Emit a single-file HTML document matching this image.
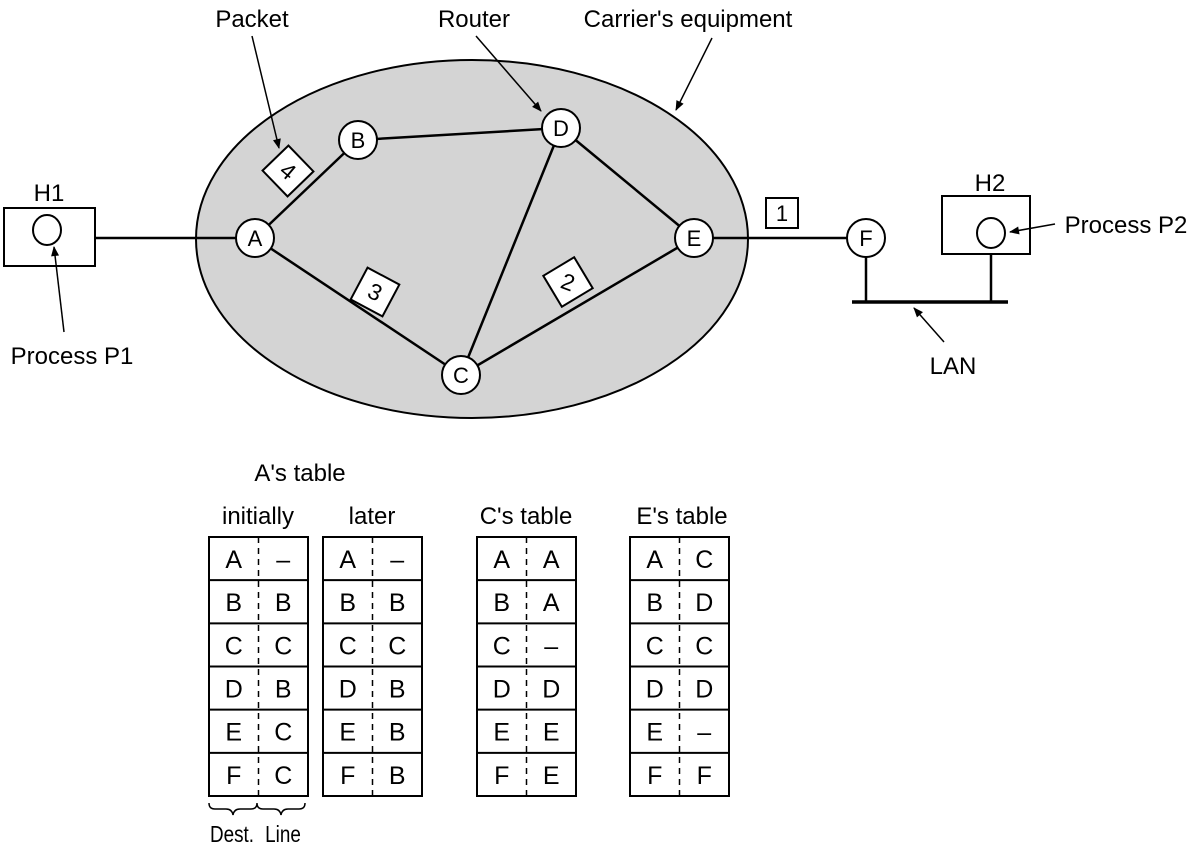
<!DOCTYPE html>
<html><head><style>
body{margin:0;background:#fff}
text{font-family:"Liberation Sans",sans-serif;fill:#000}
</style></head><body>
<svg width="1196" height="848" xmlns="http://www.w3.org/2000/svg">
<defs><marker id="ar" viewBox="0 0 10 10" refX="9" refY="5" markerWidth="12" markerHeight="10" markerUnits="userSpaceOnUse" orient="auto"><path d="M0,1 L10,5 L0,9z"/></marker></defs>
<ellipse cx="472" cy="239" rx="276" ry="179" fill="#d4d4d4" stroke="#000" stroke-width="2"/>
<g stroke="#000" stroke-width="2.5" fill="none">
<line x1="95" y1="238" x2="238" y2="238"/>
<line x1="255" y1="238" x2="358" y2="140"/>
<line x1="358" y1="140" x2="561" y2="128"/>
<line x1="255" y1="238" x2="461" y2="375"/>
<line x1="561" y1="128" x2="461" y2="375"/>
<line x1="561" y1="128" x2="694" y2="238"/>
<line x1="461" y1="375" x2="694" y2="238"/>
<line x1="694" y1="238" x2="866" y2="238"/>
<line x1="866" y1="255" x2="866" y2="302"/>
<line x1="991" y1="254" x2="991" y2="302"/>
<line x1="852" y1="302" x2="1008" y2="302" stroke-width="3.5"/>
</g>
<g stroke="#000" stroke-width="2" fill="#fff">
<rect x="4" y="208" width="91" height="58"/>
<ellipse cx="47" cy="230" rx="14" ry="15"/>
<rect x="942" y="196" width="88" height="58"/>
<ellipse cx="991" cy="233" rx="14" ry="15"/>
<circle cx="255" cy="238" r="19"/><circle cx="358" cy="140" r="19"/><circle cx="561" cy="128" r="19"/>
<circle cx="694" cy="238" r="19"/><circle cx="461" cy="375" r="19"/><circle cx="866" cy="238" r="19"/>
<rect x="766" y="198" width="32" height="30"/>
<rect x="-18" y="-18" width="36" height="36" transform="translate(288,171) rotate(46)"/>
<rect x="-18" y="-18" width="36" height="36" transform="translate(375,292) rotate(28)"/>
<rect x="-18" y="-18" width="36" height="36" transform="translate(568,282) rotate(59)"/>
</g>
<g font-size="22" text-anchor="middle">
<text x="255" y="246">A</text><text x="358" y="148">B</text><text x="561" y="136">D</text>
<text x="694" y="246">E</text><text x="461" y="383">C</text><text x="866" y="246">F</text>
<text x="782" y="221" font-size="22">1</text>
<text transform="translate(288,171) rotate(40)" y="8" font-size="23">4</text>
<text transform="translate(375,292) rotate(25)" y="8" font-size="23">3</text>
<text transform="translate(568,282) rotate(20)" y="8" font-size="23">2</text>
</g>
<g font-size="24" text-anchor="middle">
<text x="49" y="201">H1</text><text x="990" y="191">H2</text>
<text x="252" y="27">Packet</text><text x="474" y="27">Router</text><text x="688" y="27">Carrier's equipment</text>
<text x="72" y="364">Process P1</text><text x="1126" y="233">Process P2</text><text x="953" y="374">LAN</text>
<text x="300" y="481">A's table</text><text x="258" y="524">initially</text><text x="372" y="524">later</text>
<text x="526" y="524">C's table</text><text x="682" y="524">E's table</text>
</g>
<g stroke="#000" stroke-width="1.5" fill="none">
<line x1="252" y1="36" x2="279" y2="148" marker-end="url(#ar)"/>
<line x1="476" y1="36" x2="541" y2="111" marker-end="url(#ar)"/>
<line x1="712" y1="38" x2="676" y2="110" marker-end="url(#ar)"/>
<line x1="64" y1="332" x2="54" y2="247" marker-end="url(#ar)"/>
<line x1="1055" y1="224" x2="1010" y2="232" marker-end="url(#ar)"/>
<line x1="944" y1="342" x2="914" y2="308" marker-end="url(#ar)"/>
<path d="M209,803 q0,6 6,6 h11 q6,0 7,6 q1,-6 7,-6 h11 q6,0 6,-6 q0,6 6,6 h11 q6,0 7,6 q1,-6 7,-6 h11 q6,0 6,-6"/>
</g>
<text x="232" y="842" font-size="23" text-anchor="middle" transform="translate(232,0) scale(0.82,1) translate(-232,0)">Dest.</text>
<text x="283" y="842" font-size="23" text-anchor="middle" transform="translate(283,0) scale(0.82,1) translate(-283,0)">Line</text>
</svg>
<script>
var s=document.querySelector('svg'),ns='http://www.w3.org/2000/svg';
var T=[[209,'ABCDEF','–BCBCC'],[323,'ABCDEF','–BCBBB'],[477,'ABCDEF','AA–DEE'],[630,'ABCDEF','CDCD–F']];
function el(n,a,t){var e=document.createElementNS(ns,n);for(var k in a)e.setAttribute(k,a[k]);if(t)e.textContent=t;s.appendChild(e);}
T.forEach(function(t){var x=t[0],w=99,m=x+w/2;
el('rect',{x:x,y:537,width:w,height:259,fill:'none',stroke:'#000','stroke-width':2});
el('line',{x1:m,y1:537,x2:m,y2:796,stroke:'#000','stroke-width':1.5,'stroke-dasharray':'6,5'});
for(var i=0;i<6;i++){var y=537+i*43.17;if(i>0)el('line',{x1:x,y1:y,x2:x+w,y2:y,stroke:'#000','stroke-width':2});
el('text',{x:x+w/4,y:y+31,'font-size':25,'text-anchor':'middle'},t[1][i]);
el('text',{x:x+3*w/4,y:y+31,'font-size':25,'text-anchor':'middle'},t[2][i]);}
});
</script>
</body></html>
